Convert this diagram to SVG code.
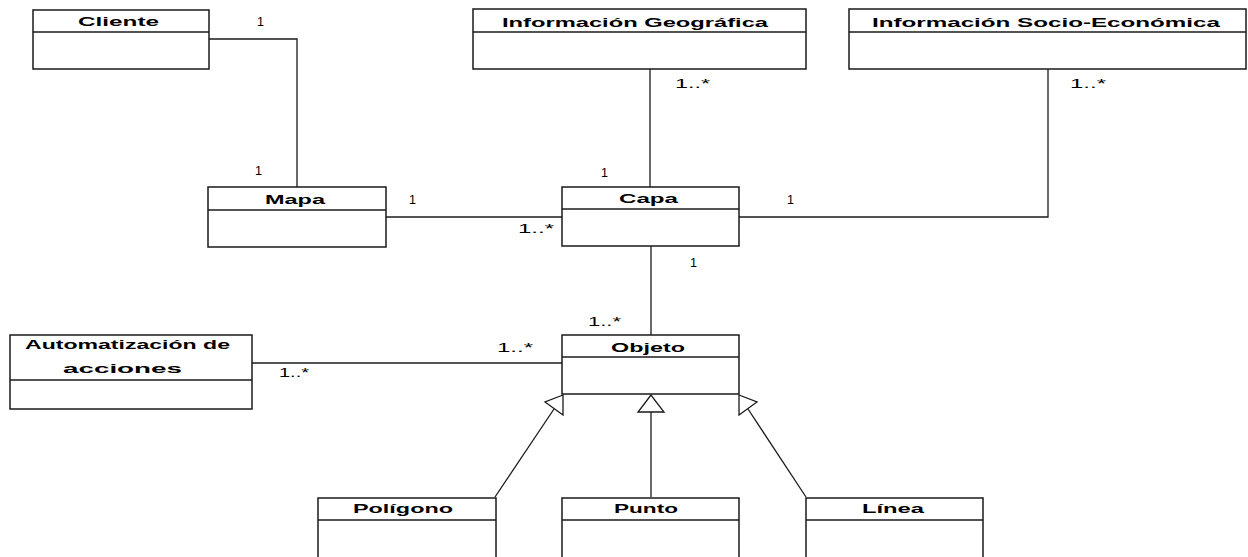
<svg xmlns="http://www.w3.org/2000/svg" width="1248" height="557" viewBox="0 0 1248 557">
  <style>
    .box { fill: #ffffff; stroke: #1a1a1a; stroke-width: 1.5; }
    .div { stroke: #1a1a1a; stroke-width: 1.3; }
    .name { font-family: "Liberation Sans", Arial, sans-serif; font-size: 13px; font-weight: bold; fill: #000; }
    .mult { font-family: "Liberation Sans", Arial, sans-serif; font-size: 13px; fill: #000; }
    .link { fill: none; stroke: #1a1a1a; stroke-width: 1.3; }
    .gen { fill: #ffffff; stroke: #1a1a1a; stroke-width: 1.3; stroke-linejoin: miter; }
  </style>
  <rect width="1248" height="557" fill="#ffffff"/>

  <!-- associations, generalizations and multiplicities -->
  <g id="connectors">
    <polyline class="link" points="209,39 297,39 297,187"/>
    <line class="link" x1="650" y1="69" x2="650" y2="187"/>
    <polyline class="link" points="1048,69 1048,217 739,217"/>
    <line class="link" x1="386" y1="217" x2="562" y2="217"/>
    <line class="link" x1="651" y1="246" x2="651" y2="335"/>
    <line class="link" x1="252" y1="363" x2="562" y2="363"/>

    <line class="link" x1="495" y1="497" x2="554" y2="409"/>
    <polygon class="gen" points="563,395 545,402 563,415"/>
    <line class="link" x1="651" y1="412" x2="651" y2="497"/>
    <polygon class="gen" points="651,395 638,412 664,412"/>
    <line class="link" x1="806" y1="497" x2="748" y2="409"/>
    <polygon class="gen" points="739,395 757,402 739,415"/>

    <text class="mult" x="257" y="26" textLength="7" lengthAdjust="spacingAndGlyphs">1</text>
    <text class="mult" x="255" y="175" textLength="7" lengthAdjust="spacingAndGlyphs">1</text>
    <text class="mult" x="675" y="88" textLength="35" lengthAdjust="spacingAndGlyphs">1..*</text>
    <text class="mult" x="1070" y="88" textLength="36" lengthAdjust="spacingAndGlyphs">1..*</text>
    <text class="mult" x="601" y="177" textLength="7" lengthAdjust="spacingAndGlyphs">1</text>
    <text class="mult" x="409" y="204" textLength="7" lengthAdjust="spacingAndGlyphs">1</text>
    <text class="mult" x="518" y="233" textLength="36" lengthAdjust="spacingAndGlyphs">1..*</text>
    <text class="mult" x="787" y="204" textLength="7" lengthAdjust="spacingAndGlyphs">1</text>
    <text class="mult" x="690" y="267" textLength="7" lengthAdjust="spacingAndGlyphs">1</text>
    <text class="mult" x="588" y="326" textLength="33" lengthAdjust="spacingAndGlyphs">1..*</text>
    <text class="mult" x="497" y="352" textLength="36" lengthAdjust="spacingAndGlyphs">1..*</text>
    <text class="mult" x="279" y="377" textLength="30" lengthAdjust="spacingAndGlyphs">1..*</text>
  </g>

  <g id="cliente">
    <rect class="box" x="33" y="10" width="176" height="59"/>
    <line class="div" x1="33" y1="32" x2="209" y2="32"/>
    <text class="name" x="78" y="26" textLength="81" lengthAdjust="spacingAndGlyphs">Cliente</text>
  </g>

  <g id="informacion-geografica">
    <rect class="box" x="473" y="9" width="333" height="60"/>
    <line class="div" x1="473" y1="32" x2="806" y2="32"/>
    <text class="name" x="502" y="27" textLength="266" lengthAdjust="spacingAndGlyphs">Información Geográfica</text>
  </g>

  <g id="informacion-socio-economica">
    <rect class="box" x="849" y="9" width="397" height="60"/>
    <line class="div" x1="849" y1="32" x2="1246" y2="32"/>
    <text class="name" x="872" y="27" textLength="348" lengthAdjust="spacingAndGlyphs">Información Socio-Económica</text>
  </g>

  <g id="mapa">
    <rect class="box" x="208" y="187" width="178" height="60"/>
    <line class="div" x1="208" y1="210" x2="386" y2="210"/>
    <text class="name" x="265" y="204" textLength="60" lengthAdjust="spacingAndGlyphs">Mapa</text>
  </g>

  <g id="capa">
    <rect class="box" x="562" y="187" width="177" height="59"/>
    <line class="div" x1="562" y1="209" x2="739" y2="209"/>
    <text class="name" x="619" y="203" textLength="59" lengthAdjust="spacingAndGlyphs">Capa</text>
  </g>

  <g id="objeto">
    <rect class="box" x="562" y="335" width="177" height="59"/>
    <line class="div" x1="562" y1="357" x2="739" y2="357"/>
    <text class="name" x="611" y="352" textLength="74" lengthAdjust="spacingAndGlyphs">Objeto</text>
  </g>

  <g id="automatizacion-de-acciones">
    <rect class="box" x="10" y="335" width="242" height="74"/>
    <line class="div" x1="10" y1="380" x2="252" y2="380"/>
    <text class="name" x="25" y="349" textLength="205" lengthAdjust="spacingAndGlyphs">Automatización de</text>
    <text class="name" x="63" y="373" textLength="119" lengthAdjust="spacingAndGlyphs">acciones</text>
  </g>

  <g id="poligono">
    <rect class="box" x="318" y="498" width="178" height="70"/>
    <line class="div" x1="318" y1="520" x2="496" y2="520"/>
    <text class="name" x="353" y="513" textLength="100" lengthAdjust="spacingAndGlyphs">Polígono</text>
  </g>

  <g id="punto">
    <rect class="box" x="562" y="498" width="177" height="70"/>
    <line class="div" x1="562" y1="520" x2="739" y2="520"/>
    <text class="name" x="614" y="513" textLength="64" lengthAdjust="spacingAndGlyphs">Punto</text>
  </g>

  <g id="linea">
    <rect class="box" x="806" y="498" width="177" height="70"/>
    <line class="div" x1="806" y1="520" x2="983" y2="520"/>
    <text class="name" x="862" y="513" textLength="62" lengthAdjust="spacingAndGlyphs">Línea</text>
  </g>
</svg>
